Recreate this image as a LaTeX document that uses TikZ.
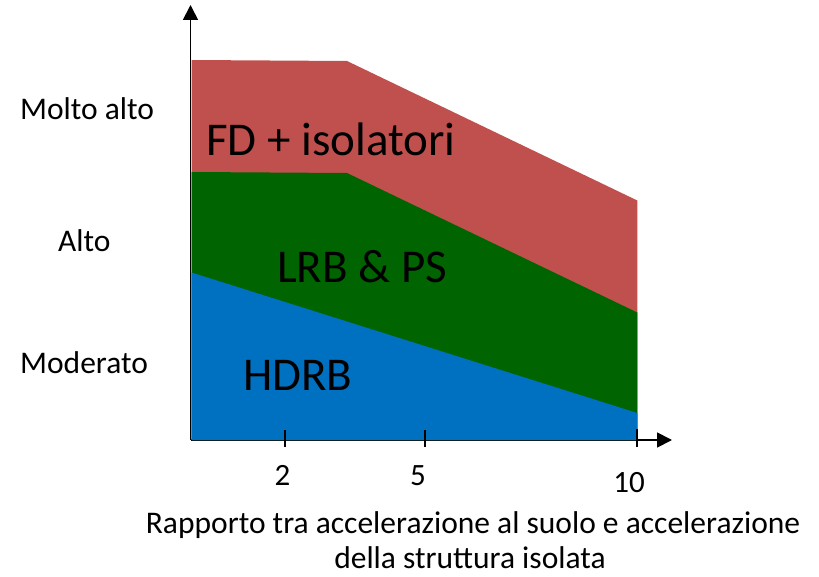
\documentclass[tikz,border=0pt]{standalone}
\usepackage{fontspec}
\setmainfont{Carlito}
\usetikzlibrary{arrows.meta}
\definecolor{zred}{HTML}{C0504D}
\definecolor{zgreen}{HTML}{006400}
\definecolor{zblue}{HTML}{0070C0}
\tikzset{
  axisline/.style={line width=1.8pt, black, -{Triangle[width=15pt,length=15pt]}},
  tickline/.style={line width=1.8pt, black},
  lvl/.style={anchor=base west, inner sep=0pt, font=\fontsize{31.5}{35}\selectfont},
  big/.style={anchor=base west, inner sep=0pt, font=\fontsize{47}{50}\selectfont},
  ticklab/.style={anchor=base, inner sep=0pt, font=\fontsize{31}{35}\selectfont},
  captext/.style={anchor=base, inner sep=0pt, font=\fontsize{31.5}{35}\selectfont},
}
\begin{document}
\begin{tikzpicture}[x=1pt,y=-1pt]
\useasboundingbox (0,0) rectangle (819,577);
\coordinate (O) at (190.5,440);
\coordinate (ytip) at (190.5,5);
\coordinate (xtip) at (672,440);
\draw[axisline] (O) -- (xtip);
% fills
\fill[zred] (191.5,60) -- (347,61) -- (637.3,200.5) -- (637.3,440) -- (191.5,440) -- cycle;
\fill[zgreen] (191.5,172) -- (347,173) -- (637.3,312.5) -- (637.3,440) -- (191.5,440) -- cycle;
\fill[zblue] (191.5,272.5) -- (637.3,413) -- (637.3,440) -- (191.5,440) -- cycle;
\draw[axisline] (O) -- (ytip);
% ticks
\coordinate (t2a) at (285,430); \coordinate (t2b) at (285,447);
\coordinate (t5a) at (425,430); \coordinate (t5b) at (425,447);
\coordinate (t10a) at (637,429); \coordinate (t10b) at (637,447);
\draw[tickline] (t2a) -- (t2b);
\draw[tickline] (t5a) -- (t5b);
\draw[tickline] (t10a) -- (t10b);
% labels
\node[lvl] (molto) at (20,120) {Molto alto};
\node[lvl] (alto) at (58,252) {Alto};
\node[lvl] (moder) at (20,373) {Moderato};
\node[big] (fd) at (206,156) {FD + isolatori};
\node[big] (lrb) at (277,283) {LRB \& PS};
\node[big] (hdrb) at (243,390) {HDRB};
\node[ticklab] (l2) at (282.5,485) {2};
\node[ticklab] (l5) at (418,485) {5};
\node[ticklab] (l10) at (629,492) {10};
\node[captext] (cap1) at (473,533) {Rapporto tra accelerazione al suolo e accelerazione};
\node[captext] (cap2) at (470,568) {della struttura isolata};
\end{tikzpicture}
\end{document}
